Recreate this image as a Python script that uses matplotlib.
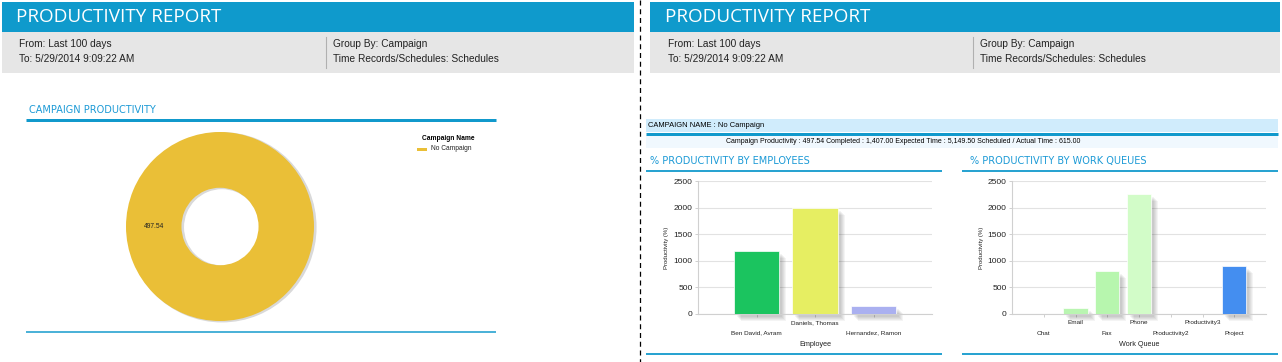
import matplotlib
matplotlib.use("Agg")
import matplotlib.pyplot as plt
from matplotlib.patches import Rectangle, Wedge
from matplotlib.transforms import ScaledTranslation

# ---- data ----
report_title = "PRODUCTIVITY REPORT"
info_left = ["From: Last 100 days", "To: 5/29/2014 9:09:22 AM"]
info_right = ["Group By: Campaign", "Time Records/Schedules: Schedules"]

campaign_names = ["No Campaign"]
campaign_values = [497.54]
campaign_colors = ["#eabf37"]

summary = ("Campaign Productivity : 497.54 Completed : 1,407.00 "
           "Expected Time : 5,149.50 Scheduled / Actual Time : 615.00")

employees = ["Ben David, Avram", "Daniels, Thomas", "Hernandez, Ramon"]
employee_prod = [1190, 1990, 145]
employee_colors = ["#1bc45f", "#e6ee62", "#aab0f0"]

queues = ["Chat", "Email", "Fax", "Phone", "Productivity2", "Productivity3", "Project"]
queue_prod = [0, 120, 800, 2260, 0, 0, 910]
queue_colors = ["#b9f5b1", "#b9f5b1", "#b7f6ae", "#d2fcc8", "#b9f5b1", "#b9f5b1", "#448ef0"]

yticks = [0, 500, 1000, 1500, 2000, 2500]

W, H = 1282, 362
BLUE = "#0f9acc"
LINE = "#1199cc"
SUB = "#1c9ad6"

plt.rcParams["font.family"] = ["Liberation Sans", "DejaVu Sans"]

fig = plt.figure(figsize=(W / 100, H / 100), dpi=100)
bg = fig.add_axes([0, 0, 1, 1])
bg.set_xlim(0, W)
bg.set_ylim(H, 0)
bg.axis("off")


def px_axes(x0, y0, x1, y1):
    return fig.add_axes([x0 / W, 1 - y1 / H, (x1 - x0) / W, (y1 - y0) / H])


def rect(x0, y0, x1, y1, color, z=1):
    bg.add_patch(Rectangle((x0, y0), x1 - x0, y1 - y0, color=color, lw=0, zorder=z))


def hline(x0, x1, y, lw_px, color=LINE):
    bg.plot([x0, x1], [y, y], color=color, lw=lw_px * 0.72, solid_capstyle="butt")


# ---- report headers (both halves) ----
for x0, x1, tx, div in [(2, 634, 16, 326), (650, 1280, 665, 973)]:
    rect(x0, 2, x1, 32, BLUE)
    rect(x0, 32, x1, 73, "#e6e6e6")
    bg.text(tx, 17.5, report_title, color="white", fontsize=13.6,
            family="Open Sans", va="center", ha="left")
    for i, s in enumerate(info_left):
        bg.text(tx + 3, 44 + 15 * i, s, fontsize=7.3, va="center", color="#222222")
    for i, s in enumerate(info_right):
        bg.text(div + 7, 44 + 15 * i, s, fontsize=7.3, va="center", color="#222222")
    bg.plot([div, div], [37, 68], color="#b0b0b0", lw=0.8)

# dashed divider
bg.plot([639.5, 639.5], [0, H], color="black", lw=0.9, dashes=(4, 3))

# ---- left: campaign productivity donut ----
bg.text(29, 110, "CAMPAIGN PRODUCTIVITY", color=SUB, fontsize=7,
        family="DejaVu Sans", va="center")
hline(26, 496, 119.5, 3)
hline(26, 496, 332, 1.5)

dax = px_axes(126, 132, 314, 321)
dax.add_patch(Wedge((0.02, -0.008), 1.0, 0, 360, width=0.59, color="#d9d9d9",
                    zorder=0, clip_on=False))
wedges, _, autotexts = dax.pie(
    campaign_values, colors=campaign_colors, radius=1.0,
    wedgeprops=dict(width=0.59, linewidth=0),
    autopct=lambda p: f"{campaign_values[0]:.2f}", pctdistance=0.7,
    textprops=dict(fontsize=4.8, color="#222222"))
for w in wedges:
    w.set_clip_on(False)
dax.set_xlim(-1, 1)
dax.set_ylim(-1, 1)
dax.set_aspect("auto")
dax.axis("off")

# legend
bg.text(448, 138.5, "Campaign Name", fontsize=4.8, weight="bold", ha="center", va="center")
for i, (n, c) in enumerate(zip(campaign_names, campaign_colors)):
    rect(417, 147.5 + 10 * i, 427, 151 + 10 * i, c, z=3)
    bg.text(431, 149 + 10 * i, n, fontsize=4.8, va="center", color="#222222")

# ---- right: campaign band ----
rect(646, 119, 1278, 132, "#d0ecfc")
hline(646, 1278, 133.5, 3)
rect(646, 135, 1278, 148, "#f0f8fe")
bg.text(648, 125.5, "CAMPAIGN NAME : No Campaign", fontsize=5.4, va="center")
bg.text(903, 141.5, summary, fontsize=5.0, va="center", ha="center")

bg.text(650, 161, "% PRODUCTIVITY BY EMPLOYEES", color=SUB, fontsize=7,
        family="DejaVu Sans", va="center")
bg.text(970, 161, "% PRODUCTIVITY BY WORK QUEUES", color=SUB, fontsize=7,
        family="DejaVu Sans", va="center")
hline(646, 942, 170.5, 1.8)
hline(962, 1278, 170.5, 1.8)
hline(646, 942, 354, 1.8)
hline(962, 1278, 354, 1.8)


def bar_chart(box, cats, vals, colors, xlabel, ylab_x, xlab_y):
    ax = px_axes(*box)
    x = list(range(len(cats)))
    for k in range(5):
        off = ScaledTranslation((3 + k) / 100, -(3 + k) / 100, fig.dpi_scale_trans)
        ax.bar(x, vals, width=0.77, color="#000000", alpha=0.045, lw=0,
               transform=ax.transData + off, clip_on=False, zorder=1)
    ax.bar(x, vals, width=0.77, color=colors, edgecolor="#ffffff", lw=0.5, zorder=3)
    ax.set_xlim(-1, len(cats))
    ax.set_ylim(0, 2500)
    ax.set_yticks(yticks)
    ax.set_yticklabels([str(t) for t in yticks], fontsize=6, color="#222222")
    ax.set_xticks(x)
    ax.set_xticklabels(cats, fontsize=4.6, color="#222222")
    ax.grid(axis="y", color="#e2e2e2", lw=0.8, zorder=0)
    ax.set_axisbelow(True)
    for s in ["top", "right"]:
        ax.spines[s].set_visible(False)
    for s in ["left", "bottom"]:
        ax.spines[s].set_color("#d0d0d0")
        ax.spines[s].set_linewidth(0.8)
    ax.tick_params(axis="both", length=2, color="#c8c8c8", width=0.6, pad=2)
    ax.tick_params(axis="x", pad=2.6)
    # staggered category labels
    for i, t in enumerate(ax.xaxis.get_major_ticks()):
        if i % 2 == 0:
            t.set_pad(10.0)
    ax.set_ylabel("Productivity (%)", fontsize=4.3, color="#222222")
    ax.yaxis.set_label_coords(ylab_x, 0.5)
    ax.set_xlabel(xlabel, fontsize=5.2, color="#222222")
    ax.xaxis.set_label_coords(0.5, xlab_y)
    return ax


bar_chart((698, 181, 932, 314), employees, employee_prod, employee_colors,
          "Employee", -0.125, -0.2)
bar_chart((1012, 181, 1266, 314), queues, queue_prod, queue_colors,
          "Work Queue", -0.11, -0.2)

fig.savefig("out.png", dpi=100)
